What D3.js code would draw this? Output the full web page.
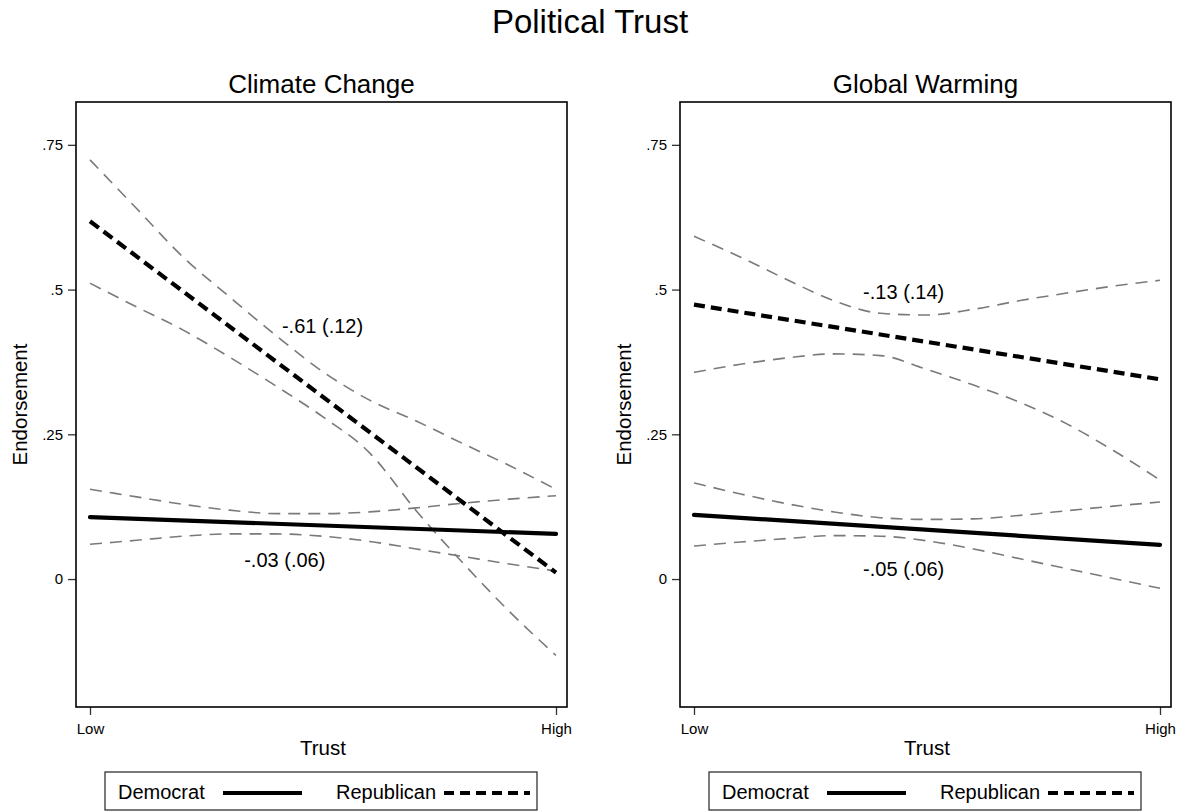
<!DOCTYPE html>
<html>
<head>
<meta charset="utf-8">
<script src="https://cdn.jsdelivr.net/npm/d3@7"></script>
<style>
  html, body { margin: 0; padding: 0; background: #fff; }
  svg { display: block; font-family: "Liberation Sans", Arial, Helvetica, sans-serif; }
</style>
</head>
<body>
<svg id="chart" width="1182" height="812"></svg>
<script>
// Trust levels (0 = Low, 1 = High) at which the intervals were evaluated
const trustGrid = [0, 0.1, 0.2, 0.3, 0.4, 0.5, 0.6, 0.7, 0.8, 0.9, 1];
const trustEnds = [0, 1];
const trustTickLabels = ["Low", "High"];
const endorsementTicks = [0, 0.25, 0.5, 0.75];

// Climate Change
const ccDemFit = [0.107, 0.078];
const ccDemHi  = [0.155, 0.142, 0.129, 0.119, 0.113, 0.113, 0.116, 0.123, 0.131, 0.138, 0.144];
const ccDemLo  = [0.060, 0.067, 0.074, 0.078, 0.078, 0.074, 0.065, 0.052, 0.039, 0.026, 0.014];
const ccRepFit = [0.618, 0.011];
const ccRepHi  = [0.724, 0.640, 0.556, 0.487, 0.420, 0.358, 0.309, 0.273, 0.234, 0.196, 0.155];
const ccRepLo  = [0.511, 0.470, 0.430, 0.383, 0.333, 0.280, 0.218, 0.118, 0.028, -0.056, -0.132];

// Global Warming
const gwDemFit = [0.111, 0.059];
const gwDemHi  = [0.166, 0.147, 0.130, 0.116, 0.106, 0.103, 0.104, 0.110, 0.118, 0.126, 0.133];
const gwDemLo  = [0.057, 0.064, 0.070, 0.075, 0.074, 0.066, 0.052, 0.035, 0.018, 0.001, -0.016];
const gwRepFit = [0.474, 0.345];
const gwRepHi  = [0.592, 0.556, 0.517, 0.481, 0.459, 0.456, 0.466, 0.481, 0.494, 0.506, 0.516];
const gwRepLo  = [0.357, 0.371, 0.382, 0.389, 0.386, 0.362, 0.335, 0.305, 0.268, 0.222, 0.171];

// Slope estimates (standard errors)
const panelTitles = ["Climate Change", "Global Warming"];
const demSlopeLabels = ["-.03 (.06)", "-.05 (.06)"];
const repSlopeLabels = ["-.61 (.12)", "-.13 (.14)"];
const seriesNames = ["Democrat", "Republican"];

const panels = [
  { title: panelTitles[0], demFit: ccDemFit, demHi: ccDemHi, demLo: ccDemLo,
    repFit: ccRepFit, repHi: ccRepHi, repLo: ccRepLo,
    demLabel: demSlopeLabels[0], repLabel: repSlopeLabels[0],
    demAt: [0.418, 0.021], repAt: [0.499, 0.425] },
  { title: panelTitles[1], demFit: gwDemFit, demHi: gwDemHi, demLo: gwDemLo,
    repFit: gwRepFit, repHi: gwRepHi, repLo: gwRepLo,
    demLabel: demSlopeLabels[1], repLabel: repSlopeLabels[1],
    demAt: [0.45, 0.005], repAt: [0.45, 0.484] }
];

const svg = d3.select("#chart");

svg.append("text")
  .attr("x", 590).attr("y", 33)
  .attr("text-anchor", "middle")
  .attr("font-size", 33)
  .text("Political Trust");

const box = { top: 102, bottom: 707, width: 491 };
const panelLeft = [76, 680];

const y = d3.scaleLinear().domain([-0.221, 0.824]).range([box.bottom, box.top]);
const fmtY = d => d === 0 ? "0" : d3.format(".2~f")(d).replace(/^0/, "");

const ciColor = "#7a7a7a";

panels.forEach((p, i) => {
  const left = panelLeft[i];
  const g = svg.append("g").attr("transform", `translate(${left},0)`);
  const x = d3.scaleLinear().domain([0, 1]).range([14, 480]);

  // panel title
  g.append("text")
    .attr("x", box.width / 2).attr("y", 93)
    .attr("text-anchor", "middle")
    .attr("font-size", 26)
    .text(p.title);

  // y axis
  const yAxis = g.append("g")
    .call(d3.axisLeft(y).tickValues(endorsementTicks).tickFormat(fmtY).tickSize(8).tickPadding(5));
  yAxis.select(".domain").remove();
  yAxis.selectAll(".tick line").attr("stroke", "#333").attr("stroke-width", 1.3);
  yAxis.selectAll(".tick text").attr("font-size", 15).attr("fill", "#000")
    .attr("font-family", "\"Liberation Sans\", Arial, sans-serif");

  // x axis
  const xAxis = g.append("g")
    .attr("transform", `translate(0,${box.bottom})`)
    .call(d3.axisBottom(x).tickValues(trustEnds).tickFormat((d, k) => trustTickLabels[k]).tickSize(8).tickPadding(8));
  xAxis.select(".domain").remove();
  xAxis.selectAll(".tick line").attr("stroke", "#333").attr("stroke-width", 1.3);
  xAxis.selectAll(".tick text").attr("font-size", 15).attr("fill", "#000")
    .attr("font-family", "\"Liberation Sans\", Arial, sans-serif");

  // axis titles
  g.append("text")
    .attr("transform", `translate(-49,${(box.top + box.bottom) / 2}) rotate(-90)`)
    .attr("text-anchor", "middle")
    .attr("font-size", 20.5)
    .text("Endorsement");
  g.append("text")
    .attr("x", x(0.5)).attr("y", 755)
    .attr("text-anchor", "middle")
    .attr("font-size", 20.5)
    .text("Trust");

  // clip lines to plot region
  const clipId = "clip" + i;
  g.append("clipPath").attr("id", clipId)
    .append("rect").attr("x", 0).attr("y", box.top).attr("width", box.width).attr("height", box.bottom - box.top);

  const plot = g.append("g").attr("clip-path", `url(#${clipId})`);

  const ciLine = d3.line()
    .x((d, k) => x(trustGrid[k]))
    .y(d => y(d))
    .curve(d3.curveMonotoneX);
  const fitLine = d3.line()
    .x((d, k) => x(trustEnds[k]))
    .y(d => y(d));

  [p.repHi, p.repLo, p.demHi, p.demLo].forEach(s => {
    plot.append("path")
      .attr("d", ciLine(s))
      .attr("fill", "none")
      .attr("stroke", ciColor)
      .attr("stroke-width", 1.6)
      .attr("stroke-dasharray", "12,8");
  });

  plot.append("path")
    .attr("d", fitLine(p.demFit))
    .attr("fill", "none")
    .attr("stroke", "#000")
    .attr("stroke-width", 4.2)
    .attr("stroke-linecap", "round");

  plot.append("path")
    .attr("d", fitLine(p.repFit))
    .attr("fill", "none")
    .attr("stroke", "#000")
    .attr("stroke-width", 4.2)
    .attr("stroke-dasharray", "11,6");

  // slope annotations
  g.append("text")
    .attr("x", x(p.repAt[0])).attr("y", y(p.repAt[1]))
    .attr("text-anchor", "middle").attr("font-size", 20)
    .text(p.repLabel);
  g.append("text")
    .attr("x", x(p.demAt[0])).attr("y", y(p.demAt[1]))
    .attr("text-anchor", "middle").attr("font-size", 20)
    .text(p.demLabel);

  // frame
  g.append("rect")
    .attr("x", 0).attr("y", box.top)
    .attr("width", box.width).attr("height", box.bottom - box.top)
    .attr("fill", "none").attr("stroke", "#000").attr("stroke-width", 1.6);

  // legend
  const lg = g.append("g").attr("transform", "translate(29,772)");
  lg.append("rect")
    .attr("width", 432).attr("height", 38)
    .attr("fill", "#fff").attr("stroke", "#222").attr("stroke-width", 1.2);
  lg.append("text").attr("x", 13).attr("y", 27).attr("font-size", 20).text(seriesNames[0]);
  lg.append("line").attr("x1", 118).attr("x2", 197).attr("y1", 21).attr("y2", 21)
    .attr("stroke", "#000").attr("stroke-width", 4.2);
  lg.append("text").attr("x", 231).attr("y", 27).attr("font-size", 20).text(seriesNames[1]);
  lg.append("line").attr("x1", 339).attr("x2", 425).attr("y1", 21).attr("y2", 21)
    .attr("stroke", "#000").attr("stroke-width", 4.2).attr("stroke-dasharray", "10,6");
});
</script>
</body>
</html>
